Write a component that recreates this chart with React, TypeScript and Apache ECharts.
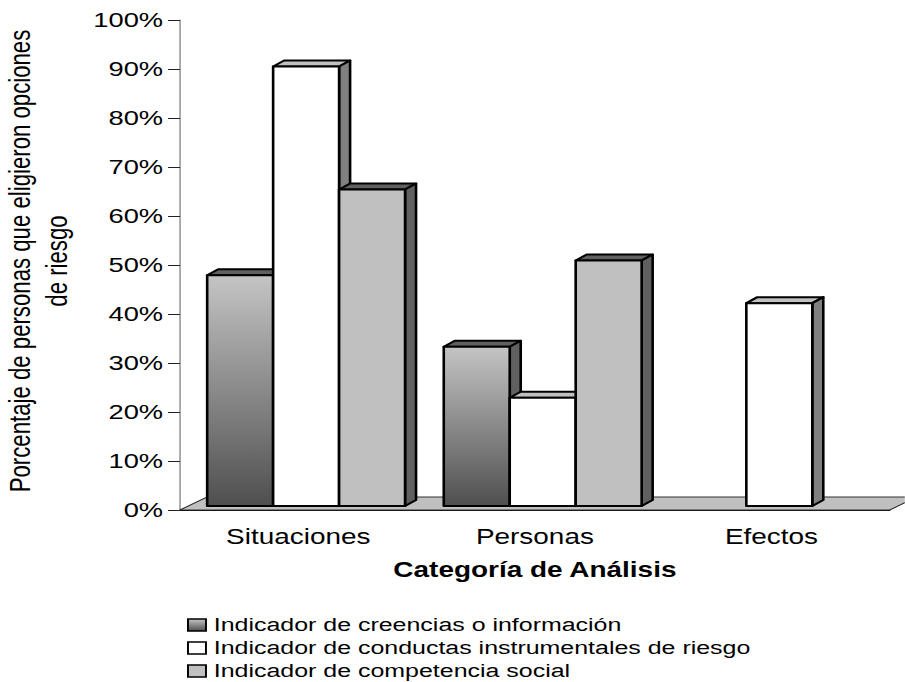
import React, { useEffect, useRef } from "react";
import * as echarts from "echarts";

const categories = ["Situaciones", "Personas", "Efectos"];
const creencias = [47.1, 32.5, null];
const conductas = [89.7, 22.1, 41.4];
const competencia = [64.6, 50.1, null];
const seriesNames = [
  "Indicador de creencias o información",
  "Indicador de conductas instrumentales de riesgo",
  "Indicador de competencia social",
];
const yTicks = { min: 0, max: 100, interval: 10 };

// The reference is horizontally stretched, so the whole chart is laid out narrower and scaled.
const K = 1.3;
const px = (v: number) => v / K;
const W = 905;
const H = 682;

const DX = px(11);
const DY = 6;
const BASE_LIFT = 4;

const gradient = new echarts.graphic.LinearGradient(0, 0, 0, 1, [
  { offset: 0, color: "#c4c4c4" },
  { offset: 1, color: "#4f4f4f" },
]);

const styles = [
  { front: gradient, top: "#606060", side: "#606060" },
  { front: "#ffffff", top: "#c0c0c0", side: "#808080" },
  { front: "#c0c0c0", top: "#606060", side: "#606060" },
];

function barRender(seriesIdx: number) {
  return (_params: any, api: any) => {
    const cat = api.value(0);
    const val = api.value(1);
    const band = api.size([1, 0])[0];
    const w = band * 0.2788;
    const center = api.coord([cat, 0])[0] + band * 0.033;
    const x0 = center + (seriesIdx - 1.5) * w;
    const x1 = x0 + w;
    const yBase = api.coord([cat, 0])[1] - BASE_LIFT;
    const yTop = api.coord([cat, val])[1] - BASE_LIFT;
    const s = styles[seriesIdx];
    const stroke = { stroke: "#000", lineWidth: 2, lineJoin: "round" };
    return {
      type: "group",
      children: [
        {
          type: "polygon",
          shape: { points: [[x0, yTop], [x0 + DX, yTop - DY], [x1 + DX, yTop - DY], [x1, yTop]] },
          style: { fill: s.top, ...stroke },
        },
        {
          type: "polygon",
          shape: { points: [[x1, yTop], [x1 + DX, yTop - DY], [x1 + DX, yBase - DY], [x1, yBase]] },
          style: { fill: s.side, ...stroke },
        },
        {
          type: "rect",
          shape: { x: x0, y: yTop, width: w, height: yBase - yTop },
          style: { fill: s.front, ...stroke },
        },
      ],
    };
  };
}

function floorRender(params: any) {
  const r = params.coordSys;
  const dx = px(27);
  const dy = 13;
  const b = r.y + r.height;
  return {
    type: "polygon",
    shape: {
      points: [
        [r.x, b],
        [r.x + dx, b - dy],
        [r.x + r.width + dx, b - dy],
        [r.x + r.width, b],
      ],
    },
    style: { fill: "#c0c0c0", stroke: "#333", lineWidth: 1 },
  };
}

const toData = (values: (number | null)[]) =>
  values.map((v, i) => (v === null ? null : [i, v])).filter(Boolean);

const fontFamily = "'Liberation Sans', Arial, sans-serif";

export default function App() {
  const ref = useRef<HTMLDivElement>(null);
  useEffect(() => {
    const chart = echarts.init(ref.current!, null, { renderer: "svg" });
    const all = [creencias, conductas, competencia];
    chart.setOption({
      animation: false,
      backgroundColor: "#fff",
      grid: {
        left: px(180),
        right: px(15),
        top: 20,
        bottom: 172,
        containLabel: false,
        outerBoundsMode: "none",
      },
      legend: {
        orient: "vertical",
        left: px(187),
        top: 614,
        width: px(700),
        height: 68,
        padding: 0,
        itemWidth: px(18),
        itemHeight: 12,
        itemGap: 1,
        selectedMode: false,
        textStyle: { fontFamily, fontSize: 19.2, color: "#000", lineHeight: 22, padding: [0, 0, 0, 1] },
        data: seriesNames.map((name, i) => ({
          name,
          icon: "rect",
          itemStyle: { color: styles[i].front, borderColor: "#000", borderWidth: 1.5 },
        })),
      },
      xAxis: {
        type: "category",
        data: categories,
        name: "Categoría de Análisis",
        nameLocation: "middle",
        nameGap: 48,
        nameTextStyle: { fontFamily, fontSize: 21.5, fontWeight: "bold", color: "#000" },
        axisLine: { lineStyle: { color: "#000", width: 1 } },
        axisTick: { length: 9, alignWithLabel: false, lineStyle: { color: "#333" } },
        axisLabel: { fontFamily, fontSize: 21.5, color: "#000", margin: 15 },
      },
      yAxis: {
        type: "value",
        min: yTicks.min,
        max: yTicks.max,
        interval: yTicks.interval,
        name: "Porcentaje de personas que eligieron opciones\nde riesgo",
        nameLocation: "middle",
        nameGap: 81,
        nameTextStyle: { fontFamily, fontSize: 22.2, color: "#000", lineHeight: 28, padding: [0, 0, 0, 8] },
        axisLine: { show: true, lineStyle: { color: "#808080", width: 1 } },
        axisTick: { show: true, length: px(12), lineStyle: { color: "#222" } },
        axisLabel: { fontFamily, fontSize: 21, color: "#000", margin: 13, formatter: "{value}%" },
        splitLine: { show: false },
      },
      series: [
        {
          type: "custom",
          silent: true,
          z: 1,
          clip: false,
          renderItem: floorRender,
          data: [[0, 0]],
          encode: { x: 0, y: 1 },
        },
        ...seriesNames.map((name, i) => ({
          type: "custom",
          name,
          z: 2 + i,
          clip: false,
          renderItem: barRender(i),
          itemStyle: { color: styles[i].front },
          data: toData(all[i]),
          encode: { x: 0, y: 1 },
        })),
      ],
    });
    return () => chart.dispose();
  }, []);
  return (
    <div
      ref={ref}
      style={{
        position: "fixed",
        left: 0,
        top: 0,
        width: W / K,
        height: H,
        transform: `scaleX(${K})`,
        transformOrigin: "0 0",
      }}
    />
  );
}
